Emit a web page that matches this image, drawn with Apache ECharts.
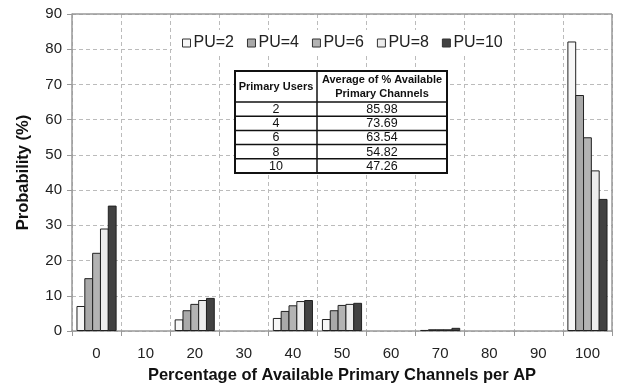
<!DOCTYPE html>
<html>
<head>
<meta charset="utf-8">
<script src="https://cdn.jsdelivr.net/npm/echarts@6/dist/echarts.min.js"></script>
<style>html,body{margin:0;padding:0;background:#fff}#c{width:619px;height:384px}</style>
</head>
<body>
<div id="c"></div>
<script>
const categories = ['0','10','20','30','40','50','60','70','80','90','100'];
const seriesNames = ['PU=2','PU=4','PU=6','PU=8','PU=10'];
const pu2  = [7.1, null, 3.3, null, 3.7, 3.4, null, 0.3, null, null, 82.2];
const pu4  = [15.0, null, 5.9, null, 5.7, 5.9, null, 0.5, null, null, 67.0];
const pu6  = [22.2, null, 7.7, null, 7.3, 7.4, null, 0.5, null, null, 55.0];
const pu8  = [29.1, null, 8.8, null, 8.5, 7.7, null, 0.5, null, null, 45.6];
const pu10 = [35.6, null, 9.4, null, 8.8, 8.0, null, 0.9, null, null, 37.5];
const yTicks = {min: 0, max: 90, interval: 10};
const tableHeader = ['Primary Users', 'Average of % Available\nPrimary Channels'];
const tableUsers = ['2','4','6','8','10'];
const tableAvg = ['85.98','73.69','63.54','54.82','47.26'];

const colors = ['#f7f7f7','#a9a9a9','#b3b3b3','#ececec','#424242'];
const allData = [pu2, pu4, pu6, pu8, pu10];
const font = 'Liberation Sans, Arial, sans-serif';

const chart = echarts.init(document.getElementById('c'));

// table graphic
const tx = 235, ty = 71, tw = 212, colX = 317, hh = 31, rh = 14.2;
const tbl = [];
tbl.push({type:'rect', shape:{x:tx, y:ty, width:tw, height:hh + rh*5}, style:{fill:'#fff', stroke:'#111', lineWidth:2}, z:100});
tbl.push({type:'line', shape:{x1:colX, y1:ty, x2:colX, y2:ty+hh+rh*5}, style:{stroke:'#111', lineWidth:1.5}, z:101});
for (let i = 0; i < 5; i++) {
  const yy = ty + hh + rh*i;
  tbl.push({type:'line', shape:{x1:tx, y1:yy, x2:tx+tw, y2:yy}, style:{stroke:'#111', lineWidth:1.5}, z:101});
  tbl.push({type:'text', x:(tx+colX)/2, y:yy + rh/2 + 0.5, style:{text:tableUsers[i], font:'12.5px ' + font, fill:'#111', align:'center', verticalAlign:'middle'}, z:102});
  tbl.push({type:'text', x:(colX+tx+tw)/2, y:yy + rh/2 + 0.5, style:{text:tableAvg[i], font:'12.5px ' + font, fill:'#111', align:'center', verticalAlign:'middle'}, z:102});
}
tbl.push({type:'text', x:(tx+colX)/2, y:ty + hh/2, style:{text:tableHeader[0], font:'bold 11px ' + font, fill:'#111', align:'center', verticalAlign:'middle'}, z:102});
tbl.push({type:'text', x:(colX+tx+tw)/2, y:ty + hh/2, style:{text:tableHeader[1], font:'bold 11px ' + font, fill:'#111', align:'center', verticalAlign:'middle', lineHeight:14}, z:102});

// plot frame top/right
const frame = [
  {type:'line', shape:{x1:72, y1:14, x2:612, y2:14}, style:{stroke:'#999', lineWidth:1.5}, z:50},
  {type:'line', shape:{x1:612, y1:14, x2:612, y2:331}, style:{stroke:'#999', lineWidth:1.5}, z:50}
];

chart.setOption({
  animation: false,
  backgroundColor: '#fff',
  grid: {left: 72, right: 7, top: 14, bottom: 53, containLabel: false, outerBoundsMode: 'none'},
  legend: {
    data: seriesNames,
    top: 30, left: 172,
    icon: 'rect', itemWidth: 8, itemHeight: 8, itemGap: 13,
    backgroundColor: '#fff',
    padding: [5, 10],
    textStyle: {fontFamily: font, fontSize: 16, color: '#222', padding: [0,0,0,-2]},
    itemStyle: {borderColor: '#333', borderWidth: 1}
  },
  xAxis: {
    type: 'category',
    data: categories,
    name: 'Percentage of Available Primary Channels per AP',
    nameLocation: 'middle',
    nameGap: 36,
    nameTextStyle: {fontFamily: font, fontSize: 16.5, fontWeight: 'bold', color: '#111'},
    axisLine: {lineStyle: {color: '#999', width: 1.5}},
    axisTick: {show: true, length: 5, lineStyle: {color: '#999'}},
    axisLabel: {fontFamily: font, fontSize: 15, color: '#222', margin: 15},
    splitLine: {show: true, lineStyle: {color: '#bbb', type: [4, 3], width: 1}}
  },
  yAxis: {
    type: 'value',
    min: yTicks.min, max: yTicks.max, interval: yTicks.interval,
    name: 'Probability (%)',
    nameLocation: 'middle',
    nameGap: 40,
    nameTextStyle: {fontFamily: font, fontSize: 16.5, fontWeight: 'bold', color: '#111'},
    axisLine: {show: true, lineStyle: {color: '#999', width: 1.5}},
    axisTick: {show: true, length: 5, lineStyle: {color: '#999'}},
    axisLabel: {fontFamily: font, fontSize: 15, color: '#222', margin: 10},
    splitLine: {show: true, lineStyle: {color: '#bbb', type: [4, 3], width: 1}}
  },
  series: allData.map((d, i) => ({
    name: seriesNames[i],
    type: 'bar',
    data: d,
    barWidth: 8.8,
    barGap: '-11%',
    itemStyle: {color: colors[i], borderColor: '#222', borderWidth: 1}
  })),
  graphic: frame.concat(tbl)
});
</script>
</body>
</html>
